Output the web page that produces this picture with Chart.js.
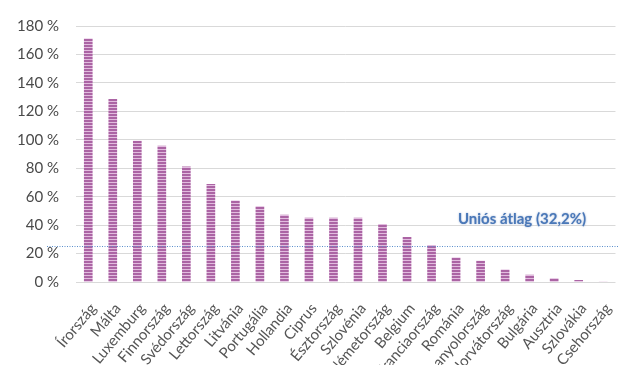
<!DOCTYPE html>
<html>
<head>
<meta charset="utf-8">
<script src="https://cdn.jsdelivr.net/npm/chart.js@4.4.0/dist/chart.umd.min.js"></script>
<style>
  html, body { margin: 0; padding: 0; background: #fff; overflow: hidden; width: 619px; height: 365px; }
  #wrap { position: relative; width: 627px; height: 365px; }
</style>
</head>
<body>
<div id="wrap"><canvas id="c"></canvas></div>
<script>
const categories = ['Írország','Málta','Luxemburg','Finnország','Svédország','Lettország','Litvánia','Portugália','Hollandia','Ciprus','Észtország','Szlovénia','Németország','Belgium','Franciaország','Románia','Spanyolország','Horvátország','Bulgária','Ausztria','Szlovákia','Csehország'];
const values = [171, 128.5, 99, 95.5, 81, 68.7, 57, 53, 47, 45, 45, 45, 40.5, 31.4, 25.7, 17, 14.7, 8.6, 4.9, 2.4, 1.2, 0];
const yTicks = [0, 20, 40, 60, 80, 100, 120, 140, 160, 180];
const avgValue = [25.3];
const avgLabel = ['Uniós átlag (32,2%)'];

function makePattern() {
  const p = document.createElement('canvas');
  p.width = 4; p.height = 3;
  const g = p.getContext('2d');
  g.fillStyle = '#ab64a4';
  g.fillRect(0, 0, 4, 2);
  g.fillStyle = '#e2bcdf';
  g.fillRect(0, 2, 4, 1);
  return document.getElementById('c').getContext('2d').createPattern(p, 'repeat');
}

const avgPlugin = {
  id: 'avgLine',
  afterDatasetsDraw(chart) {
    const ctx = chart.ctx;
    const y = Math.round(chart.scales.y.getPixelForValue(avgValue[0])) + 0.5;
    ctx.save();
    ctx.strokeStyle = '#5b8fcc';
    ctx.lineWidth = 1;
    ctx.setLineDash([1, 1.5]);
    ctx.beginPath();
    ctx.moveTo(47, y);
    ctx.lineTo(chart.width, y);
    ctx.stroke();
    ctx.setLineDash([]);
    ctx.font = 'bold 15px Lato';
    ctx.textAlign = 'center';
    ctx.textBaseline = 'middle';
    ctx.shadowColor = 'rgba(110,140,190,0.7)';
    ctx.shadowBlur = 2;
    ctx.fillStyle = '#4a78b8';
    ctx.fillText(avgLabel[0], 522, 219);
    ctx.restore();
  }
};

new Chart(document.getElementById('c'), {
  type: 'bar',
  data: {
    labels: categories,
    datasets: [{
      data: values,
      backgroundColor: makePattern(),
      borderWidth: 0,
      barThickness: 8
    }]
  },
  options: {
    responsive: true,
    maintainAspectRatio: false,
    animation: false,
    layout: { padding: { top: 19, right: 0, left: 0, bottom: 0 } },
    plugins: { legend: { display: false }, tooltip: { enabled: false } },
    scales: {
      x: {
        grid: { display: false },
        border: { display: false },
        ticks: {
          autoSkip: false,
          minRotation: 50,
          maxRotation: 50,
          color: '#555555',
          font: { family: 'Lato', size: 15 },
          padding: 10,
          labelOffset: 5
        },
        afterFit(scale) { scale.height = 83; }
      },
      y: {
        min: 0, max: 180,
        afterBuildTicks(scale) { scale.ticks = yTicks.map(v => ({ value: v })); },
        grid: { color: '#d9d9d9', drawTicks: false },
        border: { display: false },
        ticks: {
          color: '#4a4a4a',
          font: { family: 'Lato', size: 15 },
          padding: 17,
          callback: v => v + ' %'
        },
        afterFit(scale) { scale.width = 76; }
      }
    }
  },
  plugins: [avgPlugin]
});
</script>
</body>
</html>
